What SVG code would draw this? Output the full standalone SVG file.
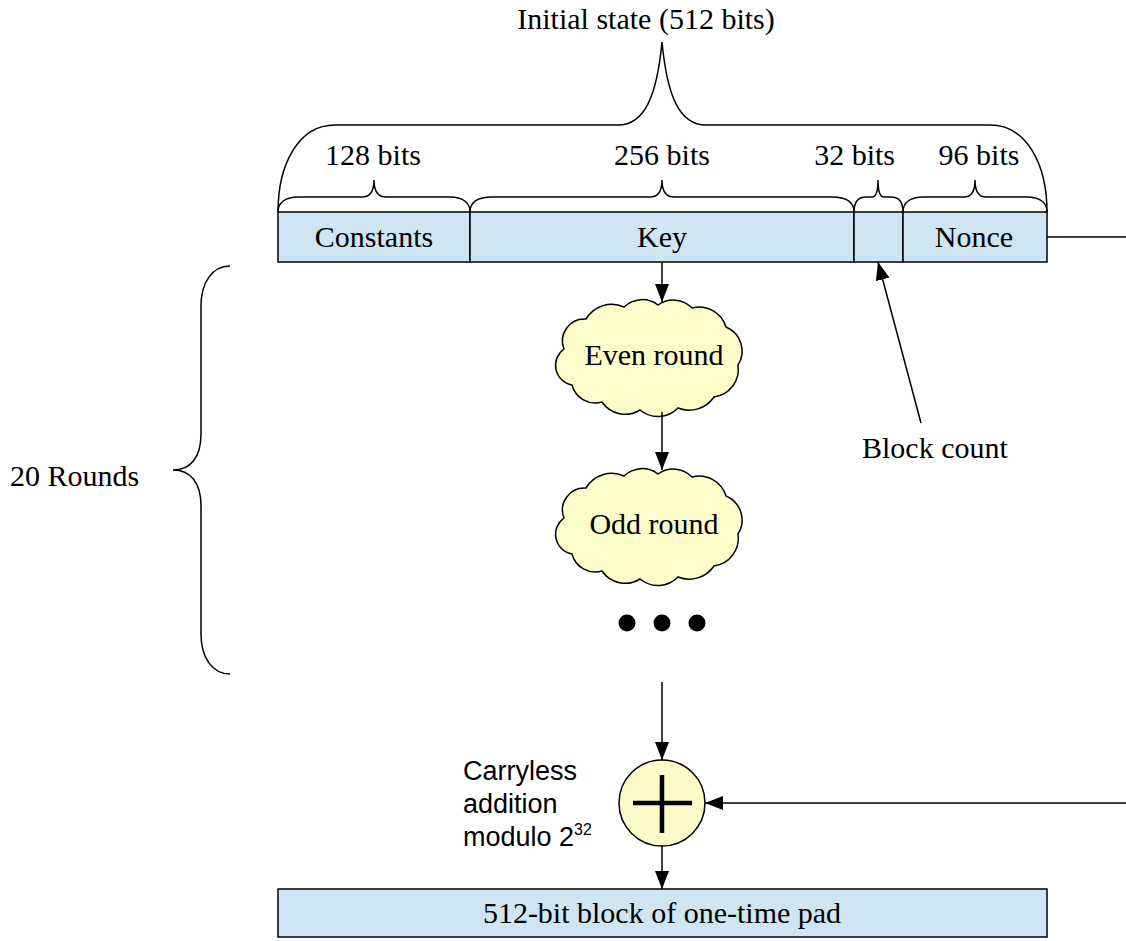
<svg xmlns="http://www.w3.org/2000/svg" width="1126" height="941" viewBox="0 0 1126 941">
  <style>
    .t { font-family: "Liberation Serif", "Times New Roman", serif; font-size: 30px; fill: #000; }
    .s { font-family: "Liberation Sans", Arial, sans-serif; font-size: 27px; fill: #000; }
    .mid { text-anchor: middle; }
    .end { text-anchor: end; }
    .cell { fill: #cfe5f2; stroke: #000; stroke-width: 1.5; }
    .brace { fill: none; stroke: #000; stroke-width: 1.5; }
    .wire { fill: none; stroke: #000; stroke-width: 1.5; }
    .cloud { fill: #fffccc; stroke: #000; stroke-width: 1.5; }
  </style>
  <defs>
    <marker id="arrow" viewBox="0 0 18 14" refX="18" refY="7" markerWidth="18" markerHeight="14" markerUnits="userSpaceOnUse" orient="auto">
      <path d="M0,0 L18,7 L0,14 Z" fill="#000"/>
    </marker>
    <path id="cloudShape" d="M -84,-8 A 22 22 0 0 1 -62,-38 A 30 30 0 0 1 -24,-50 A 26 26 0 0 1 10,-52 A 26 26 0 0 1 44,-49 A 28 28 0 0 1 78,-30 A 26 26 0 0 1 90,8 A 28 28 0 0 1 66,40 A 30 30 0 0 1 30,51 A 28 28 0 0 1 -8,53 A 28 28 0 0 1 -46,45 A 24 24 0 0 1 -76,28 A 20 20 0 0 1 -84,-8 Z"/>
  </defs>

  <rect width="1126" height="941" fill="#fff"/>

  <!-- Title and brace over the whole state -->
  <g id="state-label">
    <text class="t mid" x="646" y="29">Initial state (512 bits)</text>
    <path class="brace" d="M278,212 C278,165 298,125 335,125 L618,125 C645,125 657,95 662,42 C667,95 679,125 706,125 L990,125 C1027,125 1047,165 1047,212"/>
  </g>

  <g id="size-labels">
    <text class="t mid" x="373" y="165">128 bits</text>
    <text class="t mid" x="662" y="165">256 bits</text>
    <text class="t end" x="895" y="165">32 bits</text>
    <text class="t mid" x="979" y="165">96 bits</text>
    <path class="brace" d="M278,212 C278,202 286,197 298,197 L362,197 C370,197 374,192 374,180 C374,192 378,197 386,197 L450,197 C462,197 470,202 470,212"/>
    <path class="brace" d="M470,212 C470,202 478,197 492,197 L650,197 C658,197 662,192 662,180 C662,192 666,197 674,197 L832,197 C846,197 854,202 854,212"/>
    <path class="brace" d="M854,212 C854,202 858,197 866,197 L872,197 C876,197 878,192 878,180 C878,192 880,197 884,197 L891,197 C899,197 903,202 903,212"/>
    <path class="brace" d="M903,212 C903,202 911,197 923,197 L964,197 C971,197 975,192 975,180 C975,192 979,197 986,197 L1027,197 C1039,197 1047,202 1047,212"/>
  </g>

  <!-- 512-bit input state -->
  <g id="state">
    <rect class="cell" x="278" y="212" width="192" height="50"/>
    <rect class="cell" x="470" y="212" width="384" height="50"/>
    <rect class="cell" x="854" y="212" width="49" height="50"/>
    <rect class="cell" x="903" y="212" width="144" height="50"/>
    <text class="t mid" x="374" y="247">Constants</text>
    <text class="t mid" x="662" y="247">Key</text>
    <text class="t mid" x="974" y="247">Nonce</text>
  </g>

  <g id="even-round">
    <use href="#cloudShape" class="cloud" transform="translate(648,357)"/>
    <text class="t mid" x="654" y="365">Even round</text>
  </g>

  <g id="odd-round">
    <use href="#cloudShape" class="cloud" transform="translate(648,526)"/>
    <text class="t mid" x="654" y="534">Odd round</text>
  </g>

  <g id="more-rounds">
    <circle cx="627" cy="623" r="8.5" fill="#000"/>
    <circle cx="662" cy="623" r="8.5" fill="#000"/>
    <circle cx="697" cy="623" r="8.5" fill="#000"/>
  </g>

  <g id="rounds-brace">
    <path class="brace" d="M230,266 C212,266 201,283 201,306 L201,434 C201,458 190,470 173,470 C190,470 201,482 201,506 L201,634 C201,657 212,674 230,674"/>
    <text class="t" x="10" y="486">20 Rounds</text>
  </g>

  <g id="block-count">
    <text class="t" x="862" y="458">Block count</text>
  </g>

  <g id="adder">
    <circle cx="662" cy="803" r="43" fill="#fdf9c9" stroke="#000" stroke-width="1.5"/>
    <path d="M633,803 H692 M662,775 V833" stroke="#000" stroke-width="4.5"/>
    <text class="s" x="463" y="780">Carryless</text>
    <text class="s" x="463" y="813">addition</text>
    <text class="s" x="463" y="846">modulo 2<tspan font-size="16" dy="-11">32</tspan></text>
  </g>

  <g id="pad">
    <rect class="cell" x="278" y="889" width="769" height="48"/>
    <text class="t mid" x="662" y="923">512-bit block of one-time pad</text>
  </g>

  <!-- Connectors -->
  <g id="connectors">
    <path class="wire" d="M662,262 V302" marker-end="url(#arrow)"/>
    <path class="wire" d="M662,412 V470" marker-end="url(#arrow)"/>
    <path class="wire" d="M662,682 V760" marker-end="url(#arrow)"/>
    <path class="wire" d="M662,846 V889" marker-end="url(#arrow)"/>
    <path class="wire" d="M921,423 L878,262" marker-end="url(#arrow)"/>
    <path class="wire" d="M1047,237 H1126"/>
    <path class="wire" d="M1126,803 H705" marker-end="url(#arrow)"/>
  </g>
</svg>
